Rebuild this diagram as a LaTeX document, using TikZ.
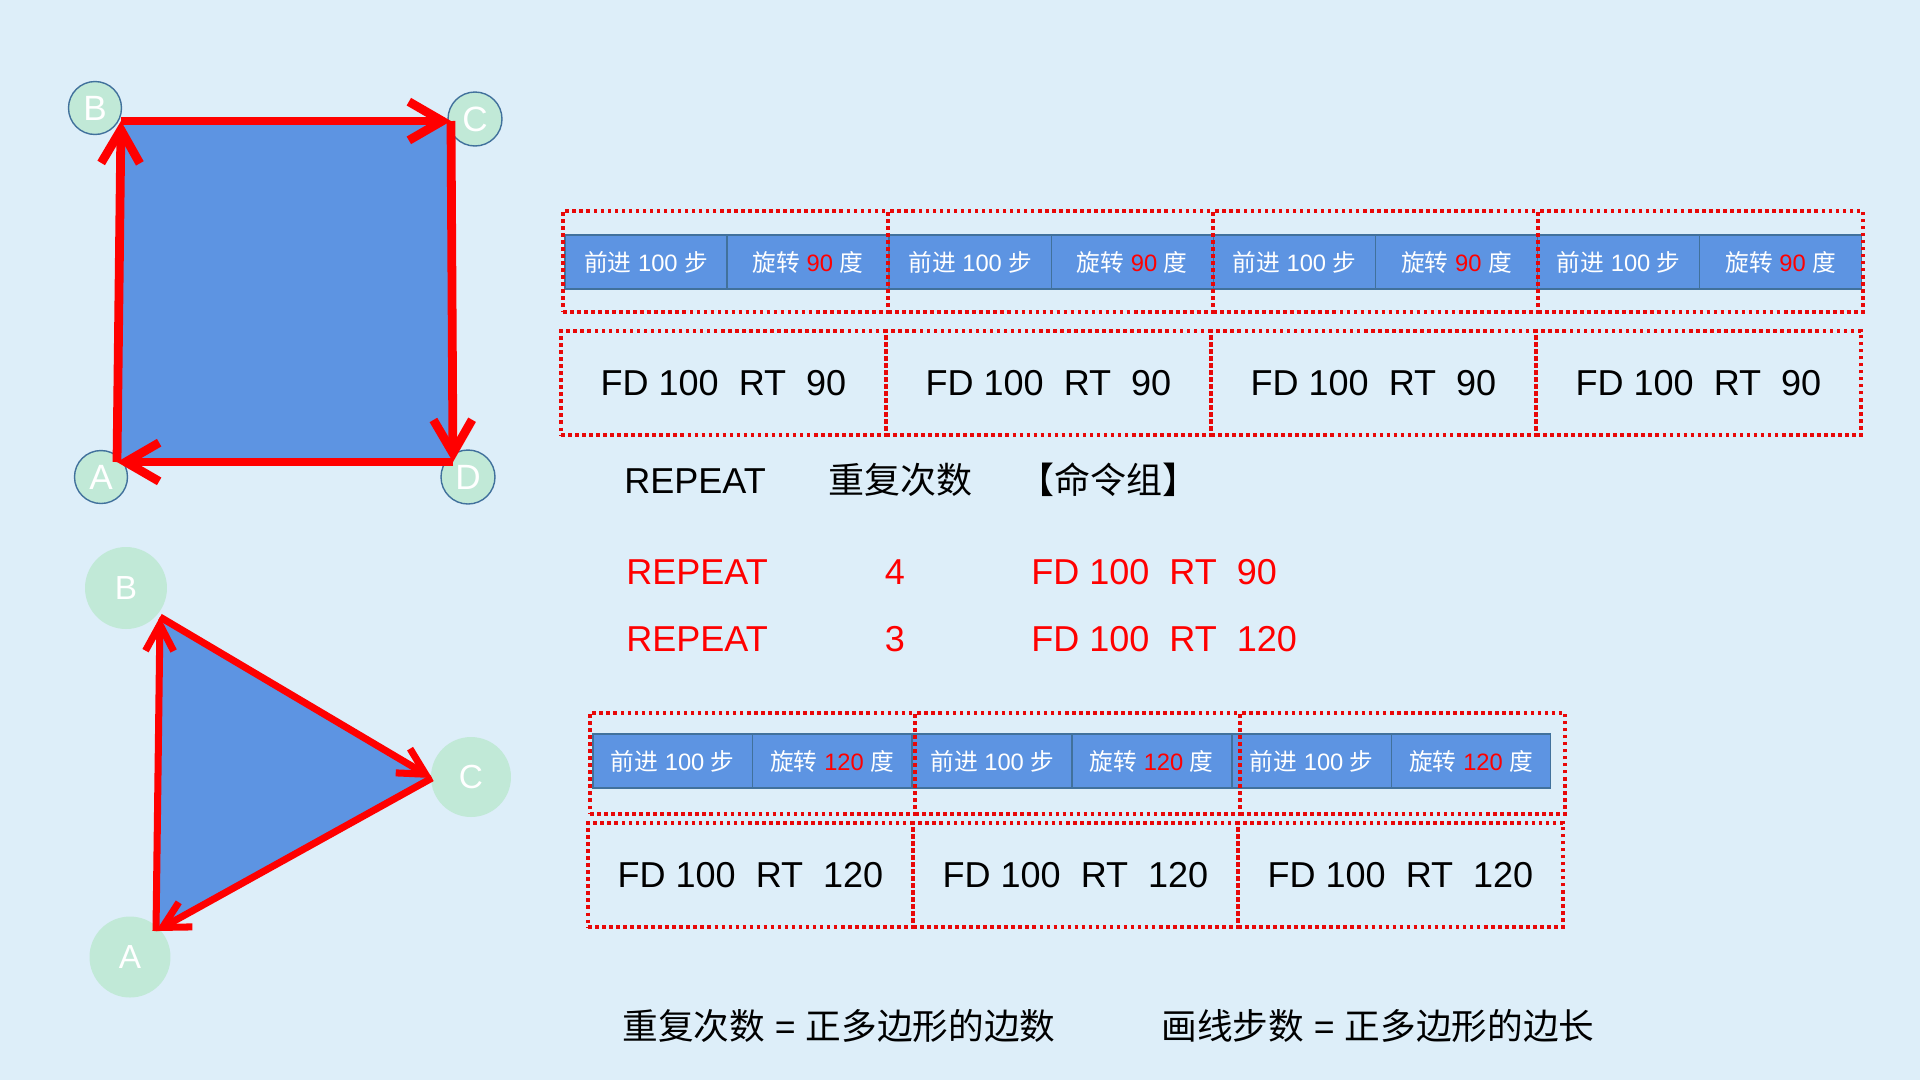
\documentclass[tikz,border=0pt]{standalone}
\usepackage{fontspec}
\setmainfont{Liberation Sans}
\newfontfamily\zhfont{Noto Sans CJK SC}
\usetikzlibrary{arrows.meta,positioning}
\definecolor{bgblue}{RGB}{221,238,249}
\definecolor{fillblue}{RGB}{93,148,226}
\definecolor{edgeblue}{RGB}{65,113,156}
\definecolor{dotgreen}{RGB}{193,233,215}
\definecolor{boxred}{RGB}{232,8,8}
\newcommand{\zh}[1]{{\zhfont #1}}

\tikzset{
  vtx/.style={circle, fill=dotgreen, text=white, inner sep=0pt, outer sep=0pt},
  sqedge/.style={red, line width=5pt, -{Straight Barb[length=19pt,width=22pt]}},
  tredge/.style={red, line width=4pt, -{Straight Barb[length=15pt,width=16pt]}},
  cell/.style={draw=edgeblue, line width=0.6pt, fill=fillblue, text=white, inner sep=0pt, outer sep=0pt,
    minimum height=1.08cm, font=\fontsize{13.5}{15}\selectfont},
  grp/.style={draw=boxred, line width=2pt, dash pattern=on 2pt off 2pt, inner sep=0pt, outer sep=0pt,
    minimum width=6.5cm},
  cmd/.style={grp, minimum height=2.08cm, font=\fontsize{20.5}{24}\selectfont},
  txt/.style={inner sep=0pt, font=\fontsize{20.5}{24}\selectfont},
}

\begin{document}
\begin{tikzpicture}[x=0.02cm, y=-0.02cm]
    \useasboundingbox (0,0) rectangle (1920,1080);
    \fill[bgblue] (0,0) rectangle (1920,1080);

    % square
    \node[vtx, draw=edgeblue, line width=0.8pt, minimum size=1.06cm, font=\fontsize{20}{22}\selectfont] (sqA) at (101,477) {A};
    \node[vtx, draw=edgeblue, line width=0.8pt, minimum size=1.06cm, font=\fontsize{20}{22}\selectfont] (sqB) at (95,108) {B};
    \node[vtx, draw=edgeblue, line width=0.8pt, minimum size=1.08cm, font=\fontsize{20}{22}\selectfont] (sqC) at (475,119) {C};
    \node[vtx, draw=edgeblue, line width=0.8pt, minimum size=1.08cm, font=\fontsize{20}{22}\selectfont] (sqD) at (468,477) {D};
    \coordinate (sa) at (117,462);
    \coordinate (sb) at (121,121);
    \coordinate (sc) at (451,121);
    \coordinate (sd) at (453,462);
    \fill[fillblue] (sa) -- (sb) -- (sc) -- (sd) -- cycle;
    \draw[sqedge] (sa) -- (sb);
    \draw[sqedge] (sb) -- (sc);
    \draw[sqedge] (sc) -- (sd);
    \draw[sqedge] (sd) -- (sa);

    % triangle
    \node[vtx, minimum size=1.62cm, font=\fontsize{19}{21}\selectfont] (trA) at (130,957) {A};
    \node[vtx, minimum size=1.64cm, font=\fontsize{19}{21}\selectfont] (trB) at (126,588) {B};
    \node[vtx, minimum size=1.6cm, font=\fontsize{19}{21}\selectfont] (trC) at (471,777) {C};
    \coordinate (ta) at (156,931);
    \coordinate (tb) at (160,617);
    \coordinate (tc) at (432,778);
    \fill[fillblue] (ta) -- (tb) -- (tc) -- cycle;
    \draw[tredge] (ta) -- (tb);
    \draw[tredge] (tb) -- (tc);
    \draw[tredge] (tc) -- (ta);

    % command groups for the square
    \foreach \i in {0,...,3} {
      \node[cell, minimum width=3.24cm, anchor=west] (sqFD\i) at ({565+324.25*\i},262) {\zh{前进} 100 \zh{步}};
      \node[cell, minimum width=3.24cm, right=0pt of sqFD\i] (sqRT\i) {\zh{旋转} \textcolor{red}{90} \zh{度}};
      \node[grp, minimum height=2.02cm, anchor=north west] (sqGrp\i) at ({563+325*\i},211) {};
      \node[cmd, anchor=north west] (sqCmd\i) at ({561+325*\i},331) {FD 100\ \ RT\ \ 90};
    }

    % syntax
    \node[txt, anchor=base west] (hdRep) at (624,493) {REPEAT};
    \node[txt, anchor=base west] (hdCnt) at (828,493) {\zh{重复次数}};
    \node[txt, anchor=base west] (hdGrp) at (1018,493) {\zh{【命令组】}};
    \node[txt, red, anchor=base west] (rpSq) at (626,584) {REPEAT};
    \node[txt, red, anchor=base] (nSq) at (895,584) {4};
    \node[txt, red, anchor=base west] (cmdSq) at (1031,584) {FD 100\ \ RT\ \ 90};
    \node[txt, red, anchor=base west] (rpTr) at (626,651) {REPEAT};
    \node[txt, red, anchor=base] (nTr) at (895,651) {3};
    \node[txt, red, anchor=base west] (cmdTr) at (1031,651) {FD 100\ \ RT\ \ 120};

    % command groups for the triangle
    \foreach \i in {0,...,2} {
      \node[cell, minimum width=3.19cm, anchor=west] (trFD\i) at ({593+319.5*\i},761) {\zh{前进} 100 \zh{步}};
      \node[cell, minimum width=3.19cm, right=0pt of trFD\i] (trRT\i) {\zh{旋转} \textcolor{red}{120} \zh{度}};
      \node[grp, minimum height=2.02cm, anchor=north west] (trGrp\i) at ({590+325*\i},713) {};
      \node[cmd, anchor=north west] (trCmd\i) at ({588+325*\i},823) {FD 100\ \ RT\ \ 120};
    }

    \node[txt, font=\fontsize{20.3}{24}\selectfont, anchor=west] (ruleA) at (622,1026) {\zh{重复次数} = \zh{正多边形的边数}};
    \node[txt, font=\fontsize{20.3}{24}\selectfont, anchor=west] (ruleB) at (1161,1026) {\zh{画线步数} = \zh{正多边形的边长}};
\end{tikzpicture}
\end{document}
